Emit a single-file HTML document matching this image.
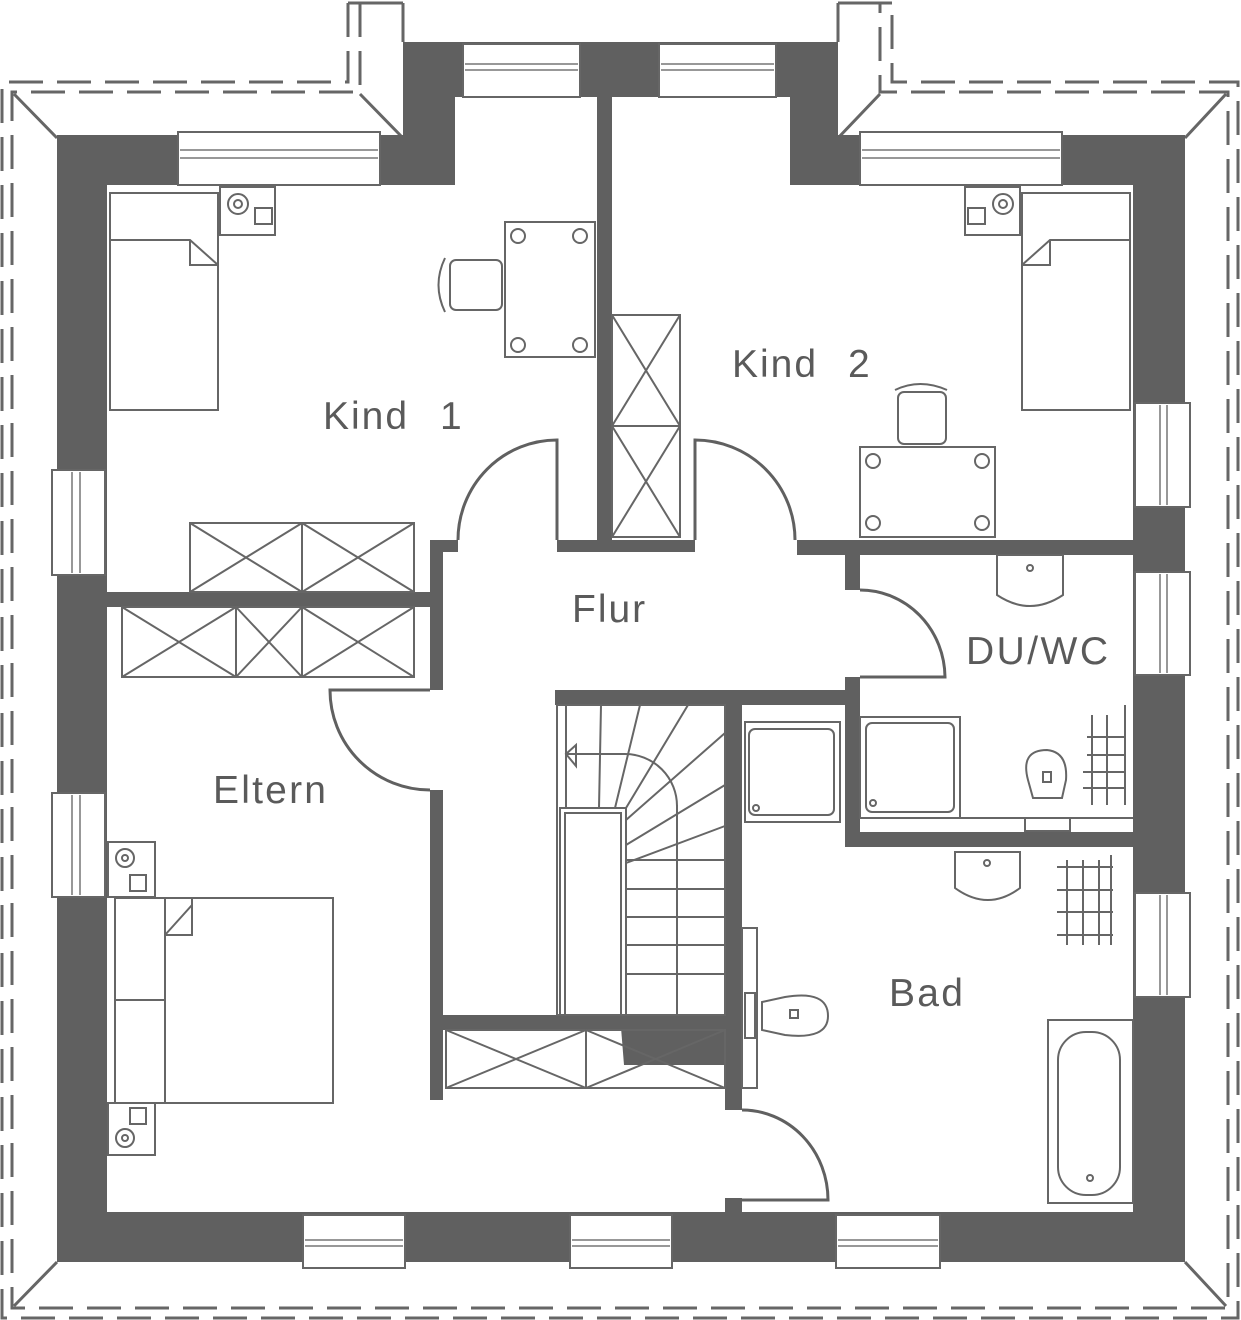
<!DOCTYPE html>
<html><head><meta charset="utf-8"><style>
html,body{margin:0;padding:0;background:#fff;}
svg{display:block;}
text{font-family:"Liberation Sans","DejaVu Sans",sans-serif;fill:#5a5a5a;font-size:39px;letter-spacing:2px;}
</style></head><body>
<svg width="1241" height="1320" viewBox="0 0 1241 1320" xmlns="http://www.w3.org/2000/svg">
<g fill="none" stroke="#666" stroke-width="3" stroke-dasharray="34,14">
<path d="M348,3 V82 H2 V1318 H1238 V82 H892 V3"/>
<path d="M360,3 V92 H12 V1308 H1228 V92 H880 V3"/>
</g>
<g fill="none" stroke="#666" stroke-width="3">
<path d="M348,3 H403 M838,3 H892"/>
<path d="M403,3 V42 M838,3 V42"/>
<path d="M14,94 L57,138 M360,94 L403,138 M1226,94 L1185,138 M880,94 L838,138 M14,1306 L57,1262 M1226,1306 L1185,1262"/>
</g>
<path fill="#606060" fill-rule="evenodd" d="M57,135 H403 V42 H838 V135 H1185 V1262 H57 Z M107,185 V1212 H1133 V185 H790 V97 H455 V185 Z"/>
<g fill="#606060">
<rect x="597" y="97" width="15" height="443"/>
<rect x="557" y="540" width="55" height="12"/>
<rect x="612" y="540" width="83" height="12"/>
<rect x="430" y="540" width="28" height="12"/>
<rect x="797" y="540" width="336" height="15"/>
<rect x="107" y="592" width="336" height="15"/>
<rect x="430" y="540" width="13" height="150"/>
<rect x="430" y="790" width="13" height="310"/>
<rect x="555" y="690" width="290" height="15"/>
<rect x="725" y="690" width="17" height="420"/>
<rect x="725" y="1198" width="17" height="14"/>
<rect x="443" y="1015" width="282" height="15"/>
<path d="M620,1015 H725 V1065 H624 Z"/>
<rect x="845" y="555" width="15" height="35"/>
<rect x="845" y="677" width="15" height="170"/>
<rect x="845" y="832" width="288" height="15"/>
</g>
<g fill="#fff" stroke="#666" stroke-width="2">
<rect x="178" y="132" width="202" height="53"/>
<rect x="463" y="44" width="117" height="53"/>
<rect x="659" y="44" width="117" height="53"/>
<rect x="860" y="132" width="202" height="53"/>
<rect x="52" y="470" width="53" height="105"/>
<rect x="52" y="793" width="53" height="104"/>
<rect x="1135" y="403" width="55" height="104"/>
<rect x="1135" y="572" width="55" height="103"/>
<rect x="1135" y="893" width="55" height="104"/>
<rect x="303" y="1215" width="102" height="53"/>
<rect x="570" y="1215" width="102" height="53"/>
<rect x="836" y="1215" width="104" height="53"/>
</g>
<g fill="none" stroke="#777" stroke-width="1.5">
<path d="M180,150 H378 M180,158 H378 M465,64 H578 M465,70 H578 M661,64 H774 M661,70 H774 M862,150 H1060 M862,158 H1060"/>
<path d="M72,472 V573 M80,472 V573 M72,795 V895 M80,795 V895 M1160,405 V505 M1167,405 V505 M1160,574 V673 M1167,574 V673 M1160,895 V995 M1167,895 V995"/>
<path d="M305,1240 H403 M305,1246 H403 M572,1240 H670 M572,1246 H670 M838,1240 H938 M838,1246 H938"/>
</g>
<g fill="none" stroke="#606060" stroke-width="3">
<path d="M458,540 A99,100 0 0 1 557,440 V540"/>
<path d="M695,540 V440 A100,100 0 0 1 795,540"/>
<path d="M860,590 A85,88 0 0 1 945,677 H860"/>
<path d="M430,690 H330 A100,100 0 0 0 430,790"/>
<path d="M742,1110 A86,90 0 0 1 828,1200 H742"/>
</g>
<g fill="none" stroke="#666" stroke-width="2">
<rect x="110" y="193" width="108" height="217"/><path d="M110,240 H190 L218,265 M190,240 V265 H218"/>
<rect x="220" y="187" width="55" height="48"/><circle cx="238" cy="204" r="10"/><circle cx="238" cy="204" r="4"/><rect x="255" y="208" width="17" height="16"/>
<rect x="505" y="222" width="90" height="135"/><circle cx="518" cy="236" r="7"/><circle cx="580" cy="236" r="7"/><circle cx="518" cy="345" r="7"/><circle cx="580" cy="345" r="7"/>
<rect x="450" y="260" width="52" height="50" rx="6"/><path d="M445,258 Q432,285 445,312"/>
<rect x="190" y="523" width="224" height="69"/><path d="M302,523 V592 M190,523 L302,592 M302,523 L190,592 M302,523 L414,592 M414,523 L302,592"/>
<rect x="1022" y="193" width="108" height="217"/><path d="M1130,240 H1050 L1022,265 M1050,240 V265 H1022"/>
<rect x="965" y="187" width="55" height="48"/><circle cx="1003" cy="204" r="10"/><circle cx="1003" cy="204" r="4"/><rect x="968" y="208" width="17" height="16"/>
<rect x="898" y="392" width="48" height="52" rx="6"/><path d="M895,390 Q920,378 947,390"/>
<rect x="860" y="447" width="135" height="90"/><circle cx="873" cy="461" r="7"/><circle cx="982" cy="461" r="7"/><circle cx="873" cy="523" r="7"/><circle cx="982" cy="523" r="7"/>
<rect x="612" y="315" width="68" height="222"/><path d="M612,426 H680 M612,315 L680,426 M680,315 L612,426 M612,426 L680,537 M680,426 L612,537"/>
<rect x="122" y="607" width="292" height="70"/><path d="M236,607 V677 M302,607 V677 M122,607 L236,677 M236,607 L122,677 M236,607 L302,677 M302,607 L236,677 M302,607 L414,677 M414,607 L302,677"/>
<rect x="115" y="898" width="218" height="205"/><path d="M115,1000 H165 M165,898 V1103 M165,935 L192,905 V898 M165,935 H192 V905"/>
<rect x="108" y="842" width="47" height="55"/><circle cx="125" cy="858" r="9"/><circle cx="125" cy="858" r="3"/><rect x="130" y="875" width="16" height="16"/>
<rect x="108" y="1103" width="47" height="52"/><circle cx="125" cy="1138" r="9"/><circle cx="125" cy="1138" r="3"/><rect x="130" y="1108" width="16" height="16"/>
<rect x="446" y="1030" width="279" height="58"/><path d="M586,1030 V1088 M446,1030 L586,1088 M586,1030 L446,1088 M586,1030 L725,1088 M586,1088 L725,1030"/>
<rect x="557" y="705" width="168" height="310"/>
<rect x="560" y="808" width="66" height="207"/><rect x="565" y="813" width="56" height="202"/>
<path d="M566,705 V808"/>
<path d="M626,860 H725 M626,889 H725 M626,917 H725 M626,945 H725 M626,974 H725 M677,805 V1015"/>
<path d="M599,808 L601,705 M615,808 L640,705 M626,808 L688,705 M626,820 L725,733 M626,845 L725,785 M626,863 L725,826"/>
<path d="M565,754 H625 A52,52 0 0 1 677,806"/>
<path d="M576,745 L566,754 L576,766 Z"/>
<rect x="745" y="722" width="95" height="100"/><rect x="749" y="729" width="85" height="86" rx="6"/><circle cx="756" cy="808" r="3"/>
<rect x="742" y="928" width="15" height="160"/><rect x="745" y="993" width="10" height="45"/>
<path d="M762,1002 L785,997 Q828,990 828,1016 Q828,1040 785,1035 L762,1030 Z"/><rect x="790" y="1010" width="8" height="8"/>
<path d="M955,852 H1020 V888 Q988,912 955,888 Z"/><circle cx="987" cy="863" r="3"/>
<path d="M1057,867 H1113 M1057,890 H1113 M1057,912 H1113 M1057,935 H1113 M1067,860 V945 M1083,860 V945 M1099,860 V945 M1111,855 V945"/>
<rect x="1048" y="1020" width="85" height="183"/><rect x="1058" y="1032" width="62" height="163" rx="28"/><circle cx="1090" cy="1178" r="3"/>
<path d="M997,555 H1063 V595 Q1030,617 997,595 Z"/><circle cx="1030" cy="568" r="3"/>
<rect x="860" y="717" width="100" height="101"/><rect x="866" y="723" width="88" height="89" rx="6"/><circle cx="873" cy="803" r="3"/>
<path d="M860,818 H1133"/><rect x="1025" y="818" width="45" height="13"/>
<path d="M1033,798 L1028,780 Q1020,750 1047,750 Q1068,752 1066,780 L1062,798 Z"/><rect x="1043" y="772" width="8" height="10"/>
<path d="M1087,737 H1125 M1087,755 H1125 M1083,772 H1125 M1083,788 H1125 M1092,715 V805 M1107,715 V805 M1125,705 V805"/>
</g>
<text x="323" y="429">Kind</text><text x="440" y="429">1</text>
<text x="732" y="377">Kind</text><text x="848" y="377">2</text>
<text x="572" y="622">Flur</text>
<text x="966" y="664" textLength="144">DU/WC</text>
<text x="213" y="803" textLength="115">Eltern</text>
<text x="889" y="1006" textLength="76">Bad</text>
</svg>
</body></html>
